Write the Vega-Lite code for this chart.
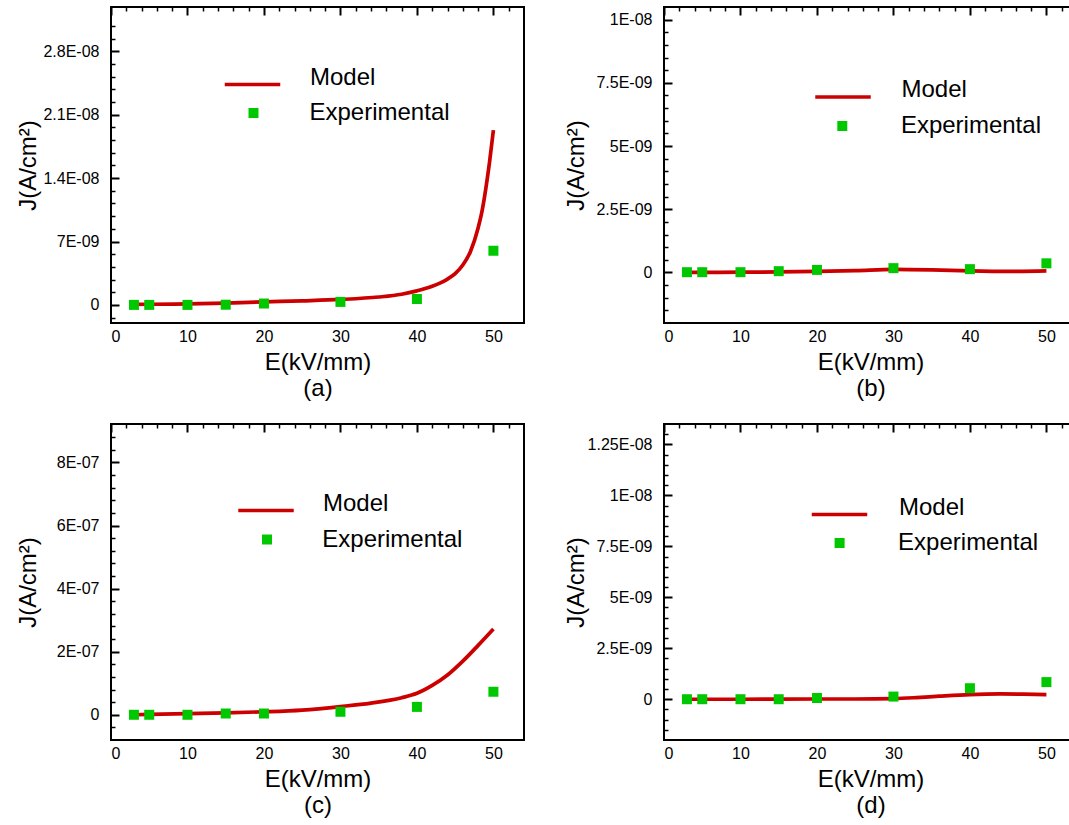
{
  "$schema": "https://vega.github.io/schema/vega-lite/v6.json",
  "padding": {"left": 15, "top": 6, "right": 0, "bottom": 0},
  "datasets": {
    "model_a": [
      {"series": "Model", "E": 3, "J": 5e-11}, {"series": "Model", "E": 5, "J": 7e-11}, {"series": "Model", "E": 10, "J": 1.1e-10},
      {"series": "Model", "E": 15, "J": 2e-10}, {"series": "Model", "E": 20, "J": 3.3e-10}, {"series": "Model", "E": 25, "J": 4.5e-10},
      {"series": "Model", "E": 30, "J": 6e-10}, {"series": "Model", "E": 35, "J": 8.7e-10}, {"series": "Model", "E": 38, "J": 1.18e-9},
      {"series": "Model", "E": 40, "J": 1.55e-9}, {"series": "Model", "E": 42, "J": 2.05e-9}, {"series": "Model", "E": 43, "J": 2.4e-9},
      {"series": "Model", "E": 44, "J": 2.85e-9}, {"series": "Model", "E": 45, "J": 3.45e-9}, {"series": "Model", "E": 46, "J": 4.4e-9},
      {"series": "Model", "E": 47, "J": 5.9e-9}, {"series": "Model", "E": 48, "J": 8.5e-9}, {"series": "Model", "E": 48.5, "J": 1.03e-8},
      {"series": "Model", "E": 49, "J": 1.28e-8}, {"series": "Model", "E": 49.5, "J": 1.58e-8}, {"series": "Model", "E": 50, "J": 1.93e-8}
    ],
    "exp_a": [
      {"series": "Experimental", "E": 3, "J": 0}, {"series": "Experimental", "E": 5, "J": 0}, {"series": "Experimental", "E": 10, "J": 0},
      {"series": "Experimental", "E": 15, "J": 2e-11}, {"series": "Experimental", "E": 20, "J": 1.5e-10}, {"series": "Experimental", "E": 30, "J": 3.3e-10},
      {"series": "Experimental", "E": 40, "J": 6.5e-10}, {"series": "Experimental", "E": 50, "J": 5.98e-9}
    ],
    "model_b": [
      {"series": "Model", "E": 3, "J": 0}, {"series": "Model", "E": 5, "J": 0}, {"series": "Model", "E": 10, "J": 1e-11},
      {"series": "Model", "E": 15, "J": 2e-11}, {"series": "Model", "E": 20, "J": 4e-11}, {"series": "Model", "E": 25, "J": 7e-11},
      {"series": "Model", "E": 30, "J": 1.2e-10}, {"series": "Model", "E": 35, "J": 1e-10}, {"series": "Model", "E": 40, "J": 6e-11},
      {"series": "Model", "E": 45, "J": 4e-11}, {"series": "Model", "E": 50, "J": 6e-11}
    ],
    "exp_b": [
      {"series": "Experimental", "E": 3, "J": 1e-11}, {"series": "Experimental", "E": 5, "J": 1e-11}, {"series": "Experimental", "E": 10, "J": 1e-11},
      {"series": "Experimental", "E": 15, "J": 5e-11}, {"series": "Experimental", "E": 20, "J": 1e-10}, {"series": "Experimental", "E": 30, "J": 1.7e-10},
      {"series": "Experimental", "E": 40, "J": 1.3e-10}, {"series": "Experimental", "E": 50, "J": 3.6e-10}
    ],
    "model_c": [
      {"series": "Model", "E": 3, "J": 0}, {"series": "Model", "E": 5, "J": 1e-9}, {"series": "Model", "E": 10, "J": 3.5e-9},
      {"series": "Model", "E": 15, "J": 6e-9}, {"series": "Model", "E": 20, "J": 9.5e-9}, {"series": "Model", "E": 25, "J": 1.5e-8},
      {"series": "Model", "E": 30, "J": 2.6e-8}, {"series": "Model", "E": 34, "J": 3.7e-8}, {"series": "Model", "E": 38, "J": 5.4e-8},
      {"series": "Model", "E": 40, "J": 6.8e-8}, {"series": "Model", "E": 42, "J": 9.3e-8}, {"series": "Model", "E": 44, "J": 1.26e-7},
      {"series": "Model", "E": 46, "J": 1.7e-7}, {"series": "Model", "E": 48, "J": 2.2e-7}, {"series": "Model", "E": 50, "J": 2.72e-7}
    ],
    "exp_c": [
      {"series": "Experimental", "E": 3, "J": 0}, {"series": "Experimental", "E": 5, "J": 0}, {"series": "Experimental", "E": 10, "J": 0},
      {"series": "Experimental", "E": 15, "J": 4e-9}, {"series": "Experimental", "E": 20, "J": 4e-9}, {"series": "Experimental", "E": 30, "J": 9.5e-9},
      {"series": "Experimental", "E": 40, "J": 2.5e-8}, {"series": "Experimental", "E": 50, "J": 7.3e-8}
    ],
    "model_d": [
      {"series": "Model", "E": 3, "J": 0}, {"series": "Model", "E": 10, "J": 0}, {"series": "Model", "E": 20, "J": 1e-11},
      {"series": "Model", "E": 25, "J": 1e-11}, {"series": "Model", "E": 30, "J": 3e-11}, {"series": "Model", "E": 33, "J": 8e-11},
      {"series": "Model", "E": 36, "J": 1.5e-10}, {"series": "Model", "E": 40, "J": 2.3e-10}, {"series": "Model", "E": 44, "J": 2.6e-10},
      {"series": "Model", "E": 47, "J": 2.5e-10}, {"series": "Model", "E": 50, "J": 2.3e-10}
    ],
    "exp_d": [
      {"series": "Experimental", "E": 3, "J": 0}, {"series": "Experimental", "E": 5, "J": 0}, {"series": "Experimental", "E": 10, "J": 0},
      {"series": "Experimental", "E": 15, "J": 0}, {"series": "Experimental", "E": 20, "J": 6e-11}, {"series": "Experimental", "E": 30, "J": 1.3e-10},
      {"series": "Experimental", "E": 40, "J": 5.4e-10}, {"series": "Experimental", "E": 50, "J": 8.4e-10}
    ]
  },
  "columns": 2,
  "spacing": {"column": 140, "row": 101},
  "bounds": "flush",
  "resolve": {"scale": {"stroke": "independent", "fill": "independent"}, "legend": {"stroke": "independent", "fill": "independent"}},
  "concat": [
    {
      "width": 413, "height": 316,
      "resolve": {"axis": {"x": "independent", "y": "independent"}},
      "layer": [
        {
          "data": {"name": "model_a"},
          "mark": {"type": "line", "strokeWidth": 3.7, "interpolate": "monotone"},
          "encoding": {
            "x": {"field": "E", "type": "quantitative", "scale": {"domain": [0, 54], "nice": false, "zero": false},
              "axis": {"values": [0, 10, 20, 30, 40, 50], "ticks": false, "grid": true, "gridDash": [8, 2000], "gridWidth": 2, "gridColor": "#000000", "gridOpacity": 1, "labelPadding": 5, "title": ["E(kV/mm)", "(a)"], "titleX": 206.5, "titleY": 46.7, "titleBaseline": "alphabetic", "titleLineHeight": 26}},
            "y": {"field": "J", "type": "quantitative", "scale": {"domain": [-2e-9, 3.29e-8], "nice": false, "zero": false},
              "axis": {"values": [0, 7e-9, 1.4e-8, 2.1e-8, 2.8e-8], "labelExpr": "datum.value == 0 ? '0' : replace(format(datum.value, '.3~e'), 'e-', 'E-0')", "ticks": false, "grid": true, "gridDash": [8, 2000], "gridWidth": 2, "gridColor": "#000000", "gridOpacity": 1, "labelPadding": 12, "title": "J(A/cm²)", "titleX": -83, "titleY": 158, "titleAngle": 270, "titleBaseline": "middle", "titleAlign": "center"}},
            "stroke": {"field": "series", "type": "nominal", "scale": {"domain": ["Model"], "range": ["#cc0000"]},
              "legend": {"orient": "none", "legendX": 111.5, "legendY": 47.5, "title": null, "symbolType": "stroke", "symbolSize": 3080, "symbolStrokeWidth": 3.7, "labelOffset": 27.5, "labelBaseline": "alphabetic"}}
          }
        },
        {
          "data": {"name": "exp_a"},
          "mark": {"type": "square", "size": 100, "opacity": 1},
          "encoding": {
            "x": {"field": "E", "type": "quantitative", "scale": {"domain": [0, 54], "nice": false, "zero": false},
              "axis": {"orient": "bottom", "values": [2, 4, 6, 8, 12, 14, 16, 18, 22, 24, 26, 28, 32, 34, 36, 38, 42, 44, 46, 48, 52], "ticks": false, "grid": true, "gridDash": [4, 2000], "gridWidth": 1.5, "gridColor": "#000000", "gridOpacity": 1, "labels": false, "title": null}},
            "y": {"field": "J", "type": "quantitative", "scale": {"domain": [-2e-9, 3.29e-8], "nice": false, "zero": false},
              "axis": {"orient": "left", "values": [-1.4e-9, 1.4e-9, 2.8e-9, 4.2e-9, 5.6e-9, 8.4e-9, 9.8e-9, 1.12e-8, 1.26e-8, 1.54e-8, 1.68e-8, 1.82e-8, 1.96e-8, 2.24e-8, 2.38e-8, 2.52e-8, 2.66e-8, 2.94e-8, 3.08e-8], "ticks": false, "grid": true, "gridDash": [4, 2000], "gridWidth": 1.5, "gridColor": "#000000", "gridOpacity": 1, "labels": false, "title": null}},
            "fill": {"field": "series", "type": "nominal", "scale": {"domain": ["Experimental"], "range": ["#00c800"]},
              "legend": {"orient": "none", "legendX": 130.5, "legendY": 94, "title": null, "symbolType": "square", "symbolSize": 100, "symbolStrokeWidth": 0, "labelOffset": 44, "labelBaseline": "middle"}}
          }
        }
      ]
    },
    {
      "width": 413, "height": 316,
      "resolve": {"axis": {"x": "independent", "y": "independent"}},
      "layer": [
        {
          "data": {"name": "model_b"},
          "mark": {"type": "line", "strokeWidth": 3.7, "interpolate": "monotone"},
          "encoding": {
            "x": {"field": "E", "type": "quantitative", "scale": {"domain": [0, 54], "nice": false, "zero": false},
              "axis": {"values": [0, 10, 20, 30, 40, 50], "ticks": false, "grid": true, "gridDash": [8, 2000], "gridWidth": 2, "gridColor": "#000000", "gridOpacity": 1, "labelPadding": 5, "title": ["E(kV/mm)", "(b)"], "titleX": 206.5, "titleY": 46.7, "titleBaseline": "alphabetic", "titleLineHeight": 26}},
            "y": {"field": "J", "type": "quantitative", "scale": {"domain": [-2e-9, 1.05e-8], "nice": false, "zero": false},
              "axis": {"values": [0, 2.5e-9, 5e-9, 7.5e-9, 1e-8], "labelExpr": "datum.value == 0 ? '0' : replace(format(datum.value, '.3~e'), 'e-', 'E-0')", "ticks": false, "grid": true, "gridDash": [8, 2000], "gridWidth": 2, "gridColor": "#000000", "gridOpacity": 1, "labelPadding": 12, "title": "J(A/cm²)", "titleX": -87.7, "titleY": 158, "titleAngle": 270, "titleBaseline": "middle", "titleAlign": "center"}},
            "stroke": {"field": "series", "type": "nominal", "scale": {"domain": ["Model"], "range": ["#cc0000"]},
              "legend": {"orient": "none", "legendX": 149, "legendY": 60, "title": null, "symbolType": "stroke", "symbolSize": 3080, "symbolStrokeWidth": 3.7, "labelOffset": 28.5, "labelBaseline": "alphabetic"}}
          }
        },
        {
          "data": {"name": "exp_b"},
          "mark": {"type": "square", "size": 100, "opacity": 1},
          "encoding": {
            "x": {"field": "E", "type": "quantitative", "scale": {"domain": [0, 54], "nice": false, "zero": false},
              "axis": {"orient": "bottom", "values": [2, 4, 6, 8, 12, 14, 16, 18, 22, 24, 26, 28, 32, 34, 36, 38, 42, 44, 46, 48, 52], "ticks": false, "grid": true, "gridDash": [4, 2000], "gridWidth": 1.5, "gridColor": "#000000", "gridOpacity": 1, "labels": false, "title": null}},
            "y": {"field": "J", "type": "quantitative", "scale": {"domain": [-2e-9, 1.05e-8], "nice": false, "zero": false},
              "axis": {"orient": "left", "values": [-1.5e-9, -1e-9, -5e-10, 5e-10, 1e-9, 1.5e-9, 2e-9, 3e-9, 3.5e-9, 4e-9, 4.5e-9, 5.5e-9, 6e-9, 6.5e-9, 7e-9, 8e-9, 8.5e-9, 9e-9, 9.5e-9], "ticks": false, "grid": true, "gridDash": [4, 2000], "gridWidth": 1.5, "gridColor": "#000000", "gridOpacity": 1, "labels": false, "title": null}},
            "fill": {"field": "series", "type": "nominal", "scale": {"domain": ["Experimental"], "range": ["#00c800"]},
              "legend": {"orient": "none", "legendX": 166.3, "legendY": 107, "title": null, "symbolType": "square", "symbolSize": 100, "symbolStrokeWidth": 0, "labelOffset": 46.6, "labelBaseline": "middle"}}
          }
        }
      ]
    },
    {
      "width": 413, "height": 316,
      "resolve": {"axis": {"x": "independent", "y": "independent"}},
      "layer": [
        {
          "data": {"name": "model_c"},
          "mark": {"type": "line", "strokeWidth": 3.7, "interpolate": "monotone"},
          "encoding": {
            "x": {"field": "E", "type": "quantitative", "scale": {"domain": [0, 54], "nice": false, "zero": false},
              "axis": {"values": [0, 10, 20, 30, 40, 50], "ticks": false, "grid": true, "gridDash": [8, 2000], "gridWidth": 2, "gridColor": "#000000", "gridOpacity": 1, "labelPadding": 5, "title": ["E(kV/mm)", "(c)"], "titleX": 206.5, "titleY": 46.7, "titleBaseline": "alphabetic", "titleLineHeight": 26}},
            "y": {"field": "J", "type": "quantitative", "scale": {"domain": [-8e-8, 9.22e-7], "nice": false, "zero": false},
              "axis": {"values": [0, 2e-7, 4e-7, 6e-7, 8e-7], "labelExpr": "datum.value == 0 ? '0' : replace(format(datum.value, '.3~e'), 'e-', 'E-0')", "ticks": false, "grid": true, "gridDash": [8, 2000], "gridWidth": 2, "gridColor": "#000000", "gridOpacity": 1, "labelPadding": 12, "title": "J(A/cm²)", "titleX": -82.8, "titleY": 158, "titleAngle": 270, "titleBaseline": "middle", "titleAlign": "center"}},
            "stroke": {"field": "series", "type": "nominal", "scale": {"domain": ["Model"], "range": ["#cc0000"]},
              "legend": {"orient": "none", "legendX": 125, "legendY": 56.5, "title": null, "symbolType": "stroke", "symbolSize": 3080, "symbolStrokeWidth": 3.7, "labelOffset": 27, "labelBaseline": "alphabetic"}}
          }
        },
        {
          "data": {"name": "exp_c"},
          "mark": {"type": "square", "size": 100, "opacity": 1},
          "encoding": {
            "x": {"field": "E", "type": "quantitative", "scale": {"domain": [0, 54], "nice": false, "zero": false},
              "axis": {"orient": "bottom", "values": [2, 4, 6, 8, 12, 14, 16, 18, 22, 24, 26, 28, 32, 34, 36, 38, 42, 44, 46, 48, 52], "ticks": false, "grid": true, "gridDash": [4, 2000], "gridWidth": 1.5, "gridColor": "#000000", "gridOpacity": 1, "labels": false, "title": null}},
            "y": {"field": "J", "type": "quantitative", "scale": {"domain": [-8e-8, 9.22e-7], "nice": false, "zero": false},
              "axis": {"orient": "left", "values": [-4e-8, 4e-8, 8e-8, 1.2e-7, 1.6e-7, 2.4e-7, 2.8e-7, 3.2e-7, 3.6e-7, 4.4e-7, 4.8e-7, 5.2e-7, 5.6e-7, 6.4e-7, 6.8e-7, 7.2e-7, 7.6e-7, 8.4e-7, 8.8e-7], "ticks": false, "grid": true, "gridDash": [4, 2000], "gridWidth": 1.5, "gridColor": "#000000", "gridOpacity": 1, "labels": false, "title": null}},
            "fill": {"field": "series", "type": "nominal", "scale": {"domain": ["Experimental"], "range": ["#00c800"]},
              "legend": {"orient": "none", "legendX": 144, "legendY": 103.5, "title": null, "symbolType": "square", "symbolSize": 100, "symbolStrokeWidth": 0, "labelOffset": 43.3, "labelBaseline": "middle"}}
          }
        }
      ]
    },
    {
      "width": 413, "height": 316,
      "resolve": {"axis": {"x": "independent", "y": "independent"}},
      "layer": [
        {
          "data": {"name": "model_d"},
          "mark": {"type": "line", "strokeWidth": 3.7, "interpolate": "monotone"},
          "encoding": {
            "x": {"field": "E", "type": "quantitative", "scale": {"domain": [0, 54], "nice": false, "zero": false},
              "axis": {"values": [0, 10, 20, 30, 40, 50], "ticks": false, "grid": true, "gridDash": [8, 2000], "gridWidth": 2, "gridColor": "#000000", "gridOpacity": 1, "labelPadding": 5, "title": ["E(kV/mm)", "(d)"], "titleX": 206.5, "titleY": 46.7, "titleBaseline": "alphabetic", "titleLineHeight": 26}},
            "y": {"field": "J", "type": "quantitative", "scale": {"domain": [-2e-9, 1.35e-8], "nice": false, "zero": false},
              "axis": {"values": [0, 2.5e-9, 5e-9, 7.5e-9, 1e-8, 1.25e-8], "labelExpr": "datum.value == 0 ? '0' : replace(format(datum.value, '.3~e'), 'e-', 'E-0')", "ticks": false, "grid": true, "gridDash": [8, 2000], "gridWidth": 2, "gridColor": "#000000", "gridOpacity": 1, "labelPadding": 12, "title": "J(A/cm²)", "titleX": -87.1, "titleY": 158, "titleAngle": 270, "titleBaseline": "middle", "titleAlign": "center"}},
            "stroke": {"field": "series", "type": "nominal", "scale": {"domain": ["Model"], "range": ["#cc0000"]},
              "legend": {"orient": "none", "legendX": 145.5, "legendY": 60.5, "title": null, "symbolType": "stroke", "symbolSize": 3080, "symbolStrokeWidth": 3.7, "labelOffset": 29.5, "labelBaseline": "alphabetic"}}
          }
        },
        {
          "data": {"name": "exp_d"},
          "mark": {"type": "square", "size": 100, "opacity": 1},
          "encoding": {
            "x": {"field": "E", "type": "quantitative", "scale": {"domain": [0, 54], "nice": false, "zero": false},
              "axis": {"orient": "bottom", "values": [2, 4, 6, 8, 12, 14, 16, 18, 22, 24, 26, 28, 32, 34, 36, 38, 42, 44, 46, 48, 52], "ticks": false, "grid": true, "gridDash": [4, 2000], "gridWidth": 1.5, "gridColor": "#000000", "gridOpacity": 1, "labels": false, "title": null}},
            "y": {"field": "J", "type": "quantitative", "scale": {"domain": [-2e-9, 1.35e-8], "nice": false, "zero": false},
              "axis": {"orient": "left", "values": [-1.5e-9, -1e-9, -5e-10, 5e-10, 1e-9, 1.5e-9, 2e-9, 3e-9, 3.5e-9, 4e-9, 4.5e-9, 5.5e-9, 6e-9, 6.5e-9, 7e-9, 8e-9, 8.5e-9, 9e-9, 9.5e-9, 1.05e-8, 1.1e-8, 1.15e-8, 1.2e-8, 1.3e-8], "ticks": false, "grid": true, "gridDash": [4, 2000], "gridWidth": 1.5, "gridColor": "#000000", "gridOpacity": 1, "labels": false, "title": null}},
            "fill": {"field": "series", "type": "nominal", "scale": {"domain": ["Experimental"], "range": ["#00c800"]},
              "legend": {"orient": "none", "legendX": 163.6, "legendY": 107, "title": null, "symbolType": "square", "symbolSize": 100, "symbolStrokeWidth": 0, "labelOffset": 46.5, "labelBaseline": "middle"}}
          }
        }
      ]
    }
  ],
  "config": {
    "font": "Liberation Sans",
    "view": {"stroke": "#000000", "strokeWidth": 2},
    "axis": {"labelColor": "#000000", "titleColor": "#000000", "titleFontWeight": "normal", "labelFontSize": 16, "titleFontSize": 24, "domain": false},
    "legend": {"labelFontSize": 24, "labelColor": "#000000", "padding": 0, "labelLimit": 0}
  }
}
